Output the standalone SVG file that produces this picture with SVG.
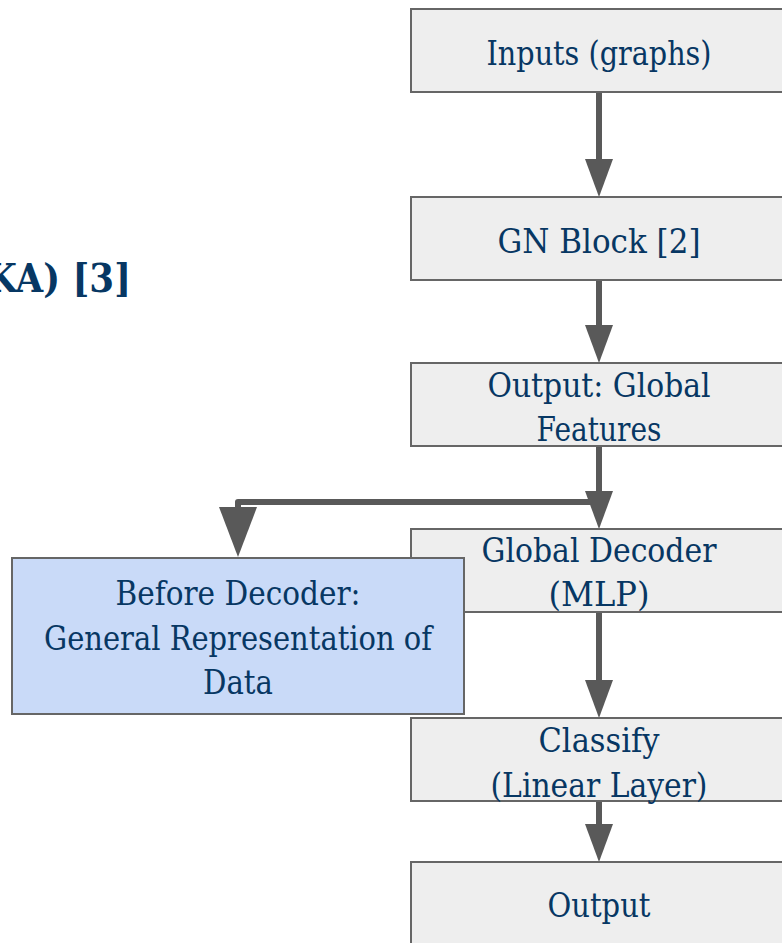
<svg xmlns="http://www.w3.org/2000/svg" width="782" height="943" viewBox="0 0 782 943">
<style>
.box{fill:#eeeeee;stroke:#666666;stroke-width:2}
.blue{fill:#c9daf8;stroke:#666666;stroke-width:2}
.t{font-family:"DejaVu Serif","Liberation Serif",serif;font-size:33px;fill:#073763;text-anchor:middle}
.title{font-family:"DejaVu Serif","Liberation Serif",serif;font-size:40px;font-weight:bold;fill:#073763}
.shaft{stroke:#595959;stroke-width:6;fill:none;stroke-linejoin:round}
.head{fill:#595959}
</style>
<rect width="782" height="943" fill="#ffffff"/>
<text class="title" x="-14" y="292" textLength="145" lengthAdjust="spacingAndGlyphs">KA) [3]</text>
<g id="connectors">
<line class="shaft" x1="599" y1="92" x2="599" y2="162"/>
<polygon class="head" points="585,159 613,159 599,197"/>
<line class="shaft" x1="599" y1="280" x2="599" y2="328"/>
<polygon class="head" points="585,325 613,325 599,363"/>
<line class="shaft" x1="599" y1="446" x2="599" y2="494"/>
<polygon class="head" points="585,491 613,491 599,529"/>
<path class="shaft" d="M599,502 H238 V510" stroke-width="7"/>
<polygon class="head" points="219,507 257,507 238,557"/>
<line class="shaft" x1="599" y1="612" x2="599" y2="683"/>
<polygon class="head" points="585,680 613,680 599,718"/>
<line class="shaft" x1="599" y1="801" x2="599" y2="827"/>
<polygon class="head" points="585,824 613,824 599,862"/>
</g>
<g id="inputs">
<rect class="box" x="411" y="9" width="376" height="83"/>
<text class="t" x="599" y="65" textLength="225" lengthAdjust="spacingAndGlyphs">Inputs (graphs)</text>
</g>
<g id="gn-block">
<rect class="box" x="411" y="197" width="376" height="83"/>
<text class="t" x="599" y="253" textLength="203" lengthAdjust="spacingAndGlyphs">GN Block [2]</text>
</g>
<g id="global-features">
<rect class="box" x="411" y="363" width="376" height="83"/>
<text class="t" x="599" y="397" textLength="223" lengthAdjust="spacingAndGlyphs">Output: Global</text>
<text class="t" x="599" y="441" textLength="125" lengthAdjust="spacingAndGlyphs">Features</text>
</g>
<g id="global-decoder">
<rect class="box" x="411" y="529" width="376" height="83"/>
<text class="t" x="599" y="562" textLength="235" lengthAdjust="spacingAndGlyphs">Global Decoder</text>
<text class="t" x="599" y="606" textLength="101" lengthAdjust="spacingAndGlyphs">(MLP)</text>
</g>
<g id="before-decoder">
<rect class="blue" x="12" y="558" width="452" height="156"/>
<text class="t" x="238" y="605" textLength="245" lengthAdjust="spacingAndGlyphs">Before Decoder:</text>
<text class="t" x="238" y="650" textLength="388" lengthAdjust="spacingAndGlyphs">General Representation of</text>
<text class="t" x="238" y="694" textLength="70" lengthAdjust="spacingAndGlyphs">Data</text>
</g>
<g id="classify">
<rect class="box" x="411" y="718" width="376" height="83"/>
<text class="t" x="599" y="752" textLength="121" lengthAdjust="spacingAndGlyphs">Classify</text>
<text class="t" x="599" y="797" textLength="217" lengthAdjust="spacingAndGlyphs">(Linear Layer)</text>
</g>
<g id="output">
<rect class="box" x="411" y="862" width="376" height="90"/>
<text class="t" x="599" y="917" textLength="103" lengthAdjust="spacingAndGlyphs">Output</text>
</g>
</svg>
